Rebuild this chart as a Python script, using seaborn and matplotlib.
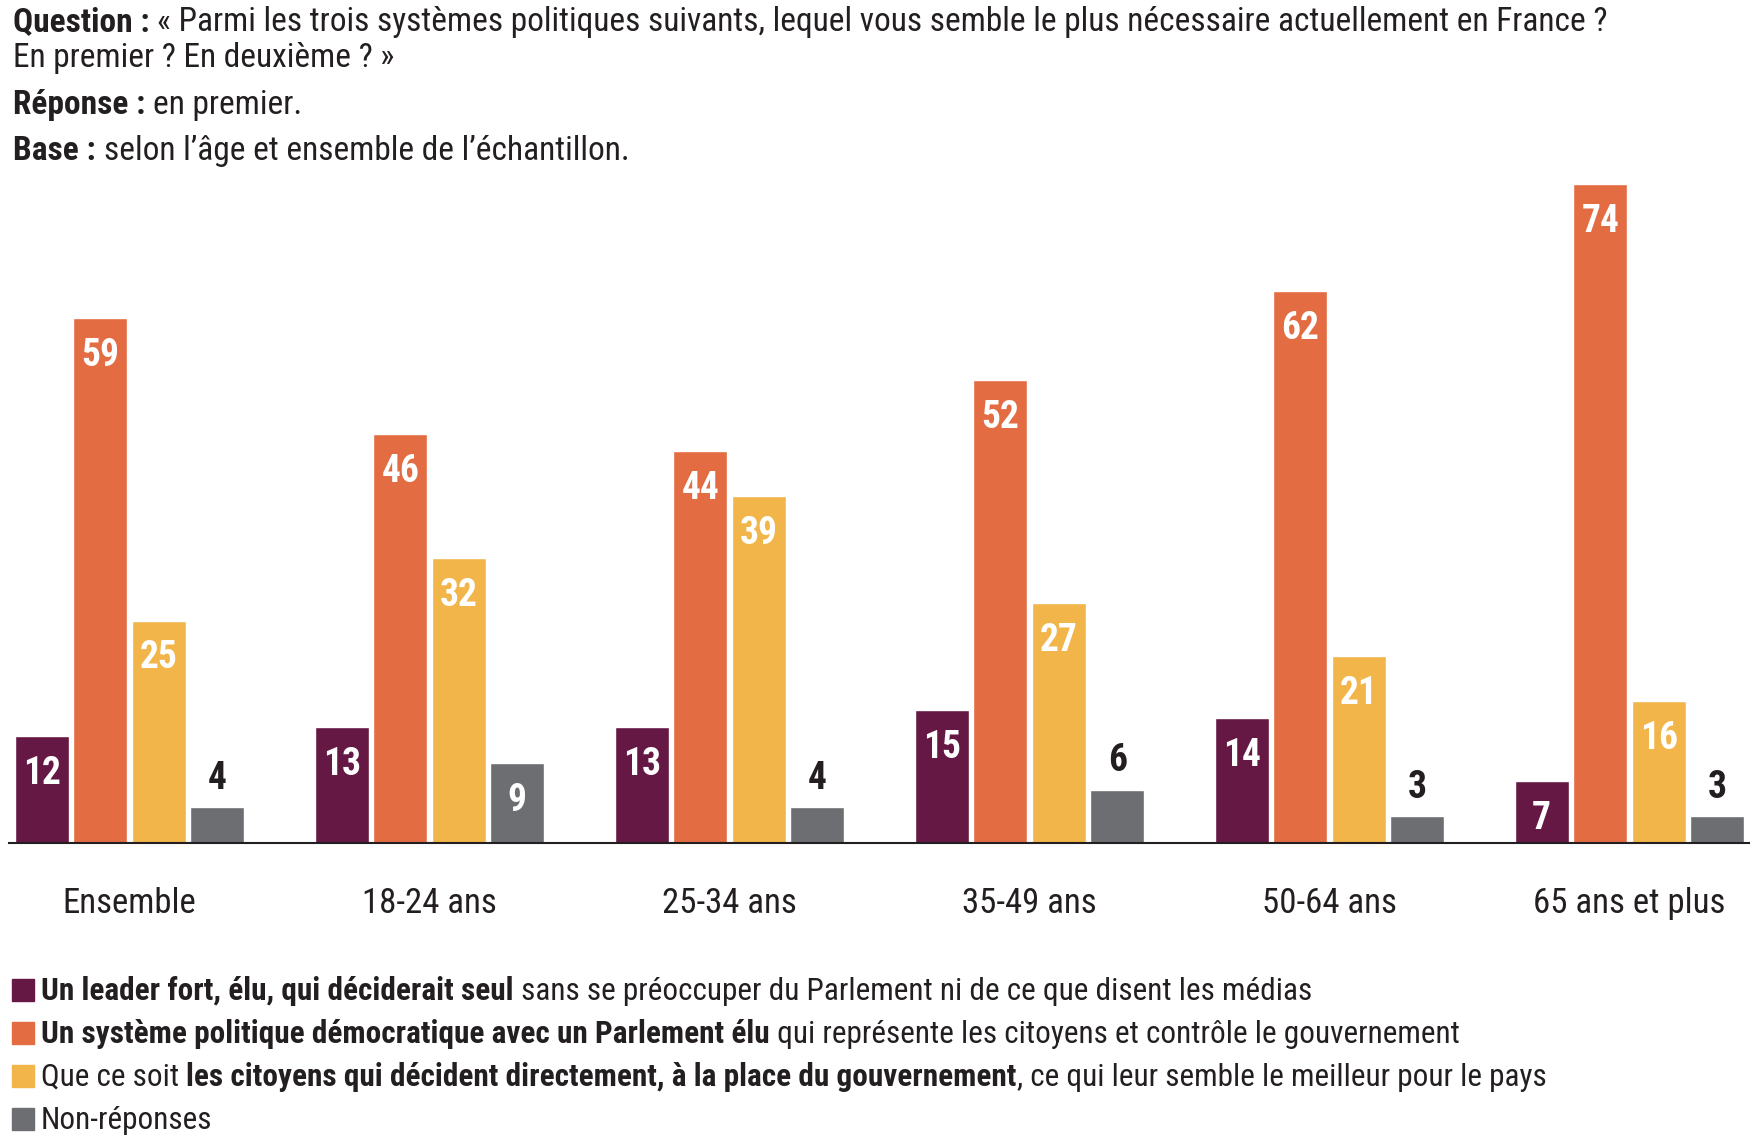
import pandas as pd
import matplotlib.pyplot as plt
import seaborn as sns
from matplotlib.patches import Rectangle

groups = ['Ensemble', '18-24 ans', '25-34 ans', '35-49 ans', '50-64 ans', '65 ans et plus']
series = ['leader', 'democratie', 'citoyens', 'nr']
leader = [12, 13, 13, 15, 14, 7]
democratie = [59, 46, 44, 52, 62, 74]
citoyens = [25, 32, 39, 27, 21, 16]
non_reponses = [4, 9, 4, 6, 3, 3]

colors = ['#661845', '#E36C42', '#F2B54A', '#6D6E71']
dark = '#231F20'

# legend texts: (regular, bold, regular) pieces
legend_parts = [
    ('', 'Un leader fort, élu, qui déciderait seul',
     ' sans se préoccuper du Parlement ni de ce que disent les médias'),
    ('', 'Un système politique démocratique avec un Parlement élu',
     ' qui représente les citoyens et contrôle le gouvernement'),
    ('Que ce soit ', 'les citoyens qui décident directement, à la place du gouvernement',
     ', ce qui leur semble le meilleur pour le pays'),
    ('Non-réponses', '', ''),
]

values = [leader, democratie, citoyens, non_reponses]
df = pd.DataFrame({
    'groupe': [g for s in values for g in groups],
    'serie': [name for name, s in zip(series, values) for _ in s],
    'valeur': [v for s in values for v in s],
})

sns.set_style('white')
plt.rcParams['font.family'] = ['Roboto Condensed', 'Liberation Sans', 'DejaVu Sans']

W, H = 1756, 1142
fig = plt.figure(figsize=(W / 100, H / 100), dpi=100)
ppu = 8.9  # pixels per percentage point
ax = fig.add_axes([9.5 / W, 299 / H, 1740 / W, 75 * ppu / H])

sns.barplot(data=df, x='groupe', y='valeur', hue='serie', hue_order=series,
            palette=colors, width=0.78, gap=0.08, saturation=1,
            errorbar=None, legend=False, ax=ax)

for cont, vals in zip(ax.containers, values):
    for bar, v in zip(cont, vals):
        x = bar.get_x() + bar.get_width() / 2
        if v >= 7:
            ax.annotate(str(v), (x, v), xytext=(0, -27), textcoords='offset points',
                        ha='center', va='center', color='white',
                        fontsize=27, fontweight='bold')
        else:
            ax.annotate(str(v), (x, v), xytext=(0, 21), textcoords='offset points',
                        ha='center', va='center', color=dark,
                        fontsize=27, fontweight='bold')

ax.set_xlim(-0.4, 5.4)
ax.set_ylim(0, 75)
ax.set_xlabel('')
ax.set_ylabel('')
ax.set_yticks([])
for side in ['top', 'left', 'right']:
    ax.spines[side].set_visible(False)
ax.spines['bottom'].set_color(dark)
ax.spines['bottom'].set_linewidth(1.5)
ax.tick_params(axis='x', length=0, pad=32, labelsize=25, labelcolor=dark)


def chain(x_px, y_px, parts, size=24):
    """Draw consecutive text pieces (regular/bold) on one baseline."""
    prev = None
    for txt, weight in parts:
        if not txt:
            continue
        if prev is None:
            prev = fig.text(x_px / W, 1 - y_px / H, txt, fontsize=size,
                            fontweight=weight, color=dark, va='baseline', ha='left')
        else:
            prev = ax.annotate(txt, xy=(1, 0), xycoords=prev, va='bottom', ha='left',
                               fontsize=size, fontweight=weight, color=dark,
                               annotation_clip=False)
    return prev


chain(13, 31, [('Question : ', 'bold'),
               ('« Parmi les trois systèmes politiques suivants, lequel vous semble le plus '
                'nécessaire actuellement en France ?', 'normal')])
chain(13, 67, [('En premier ? En deuxième ? »', 'normal')])
chain(13, 114, [('Réponse : ', 'bold'), ('en premier.', 'normal')])
chain(13, 160, [('Base : ', 'bold'), ('selon l’âge et ensemble de l’échantillon.', 'normal')])

rows_y = [990, 1033, 1076, 1119]
for (a, b, c), col, yc in zip(legend_parts, colors, rows_y):
    fig.patches.append(Rectangle((12 / W, 1 - (yc + 11) / H), 22 / W, 22 / H,
                                 transform=fig.transFigure, color=col))
    chain(41, yc + 10, [(a, 'normal'), (b, 'bold'), (c, 'normal')], size=22.5)

fig.savefig('out.png', dpi=100)
